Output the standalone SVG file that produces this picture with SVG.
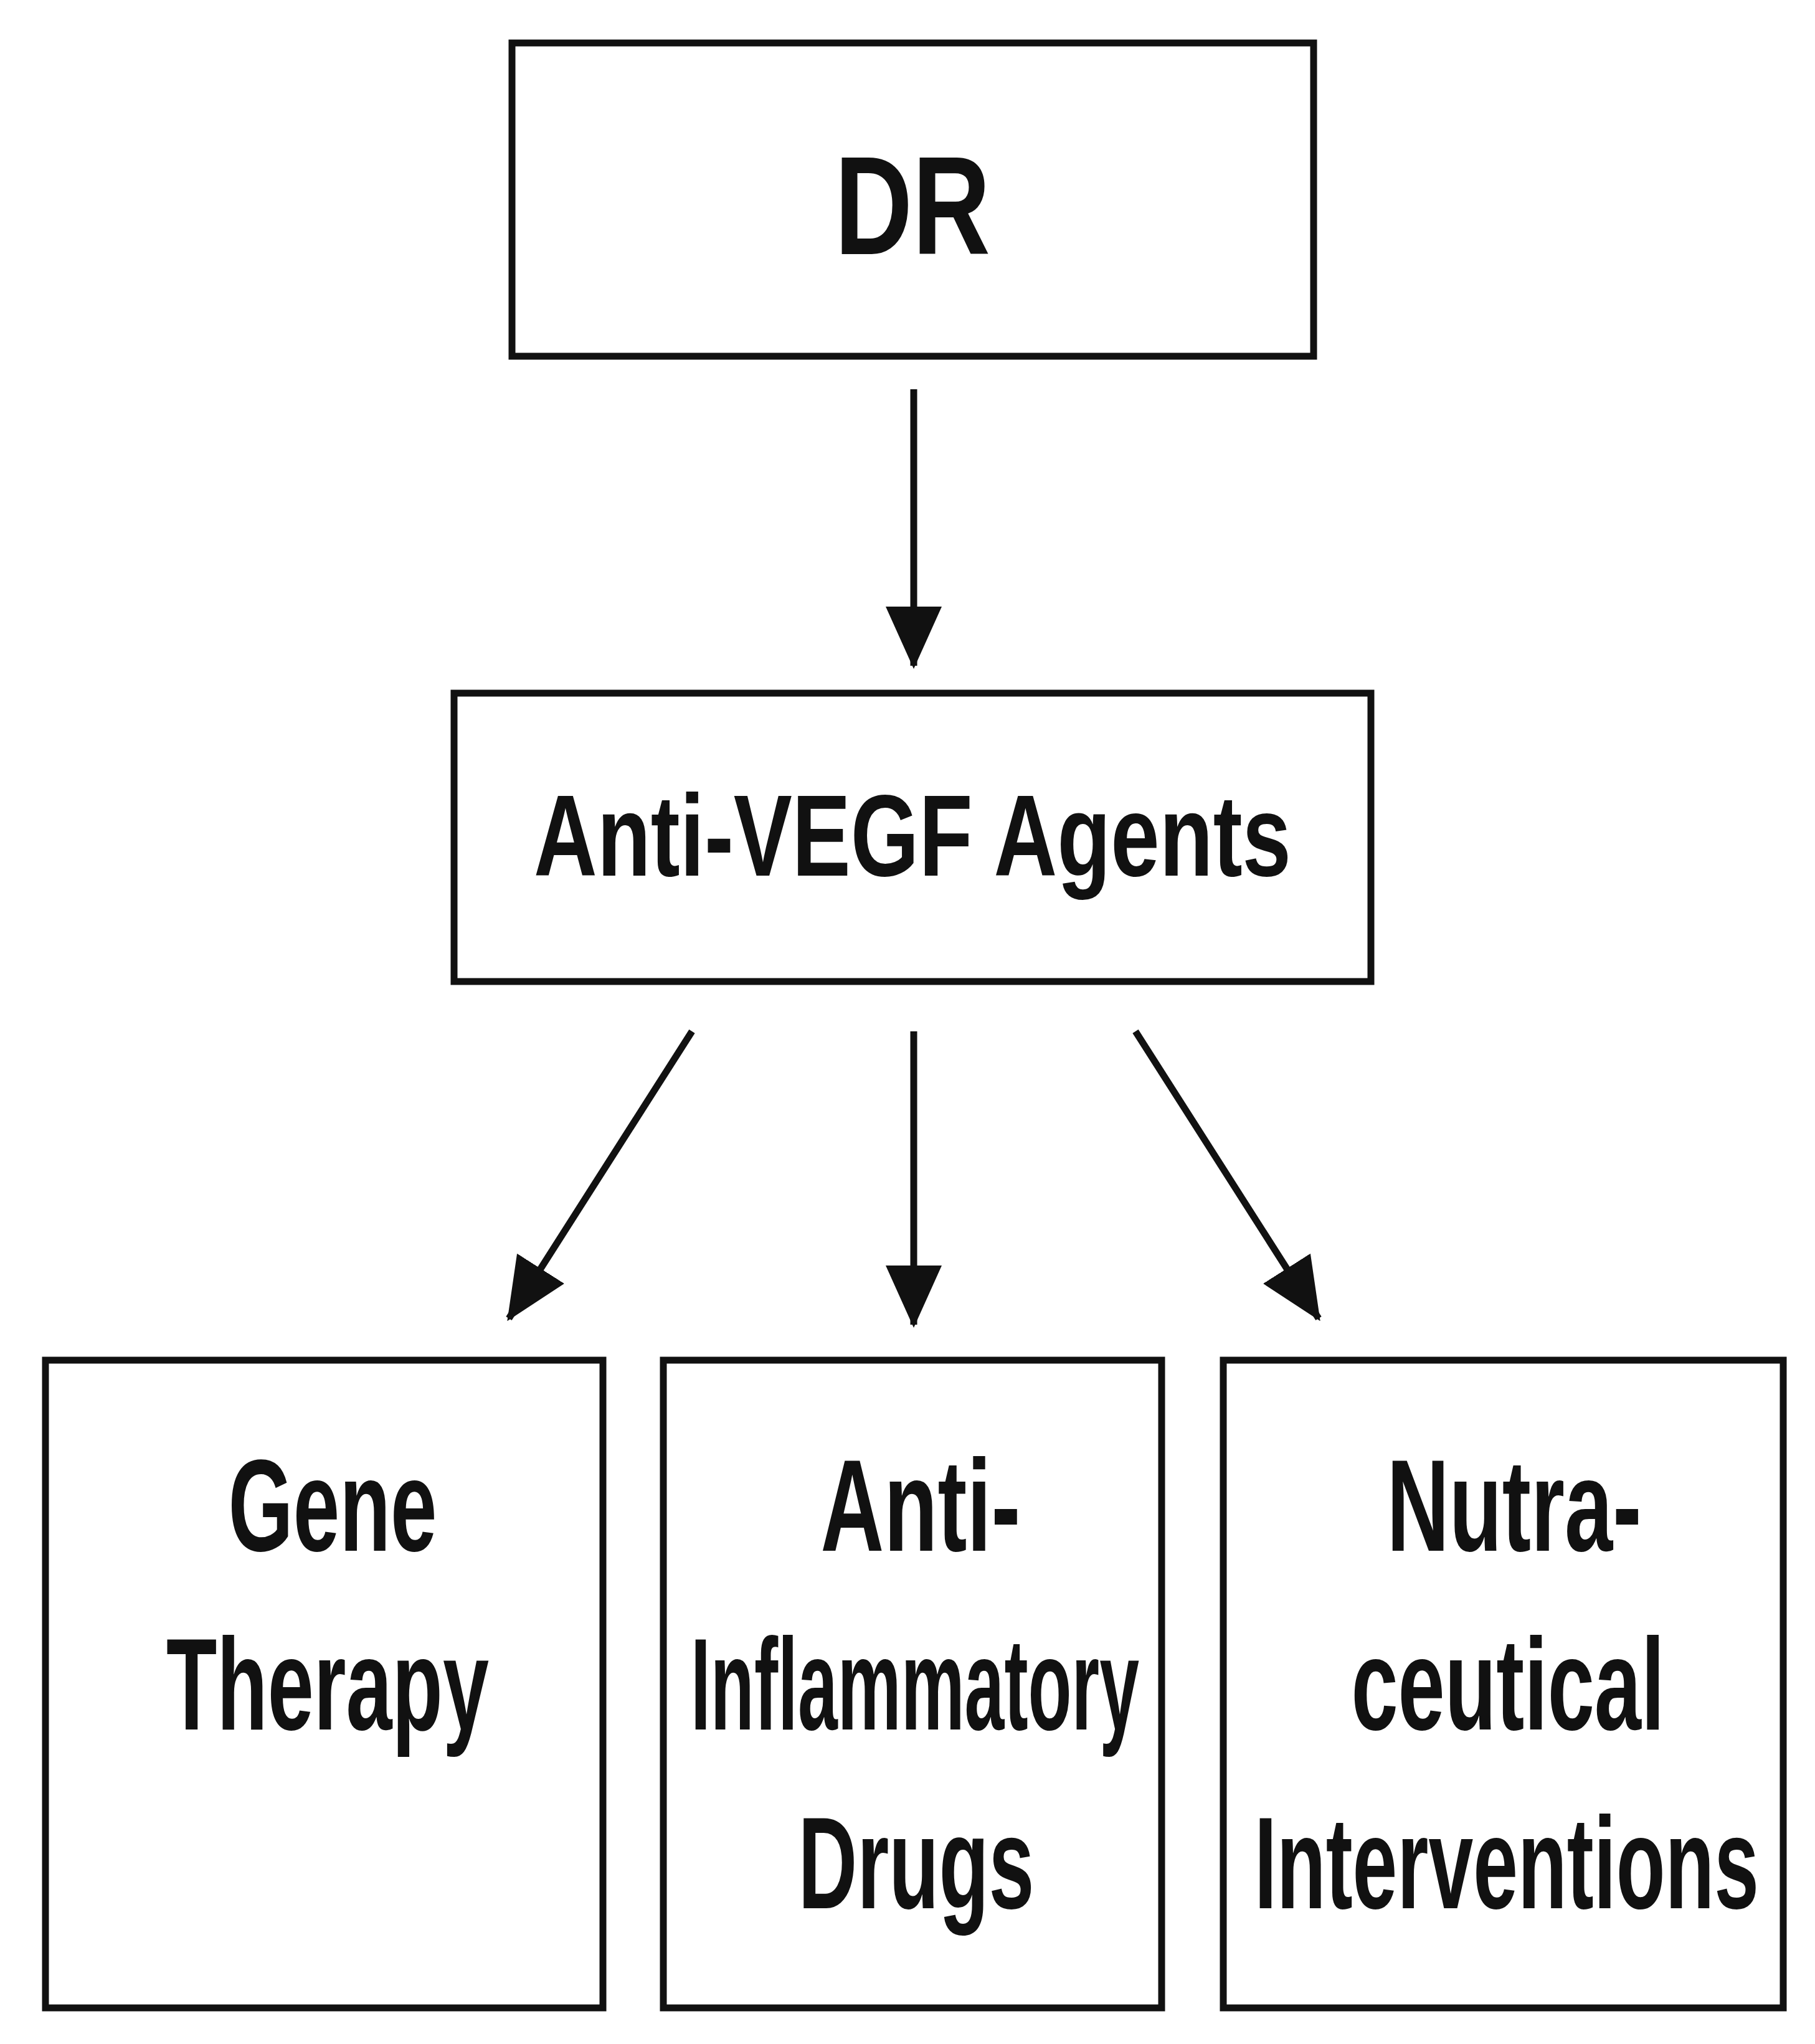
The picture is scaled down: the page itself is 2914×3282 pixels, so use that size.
<svg xmlns="http://www.w3.org/2000/svg" width="2914" height="3282" viewBox="0 0 2914 3282">
<style>
.box{fill:#fff;stroke:#111;stroke-width:11}
.t{font-family:"Liberation Sans Narrow","Liberation Sans",Arial,sans-serif;font-weight:bold;fill:#111;text-anchor:middle}
.c{stroke:#111;stroke-width:11;fill:none}
</style>
<defs>
<marker id="ah" markerUnits="userSpaceOnUse" markerWidth="100" markerHeight="100" viewBox="0 0 100 100" refX="95" refY="50" orient="auto">
<path d="M0,5 L100,50 L0,95 Z" fill="#111"/>
</marker>
</defs>
<rect width="2914" height="3282" fill="#fff"/>
<g id="dr"><rect class="box" x="822" y="69" width="1287" height="503"/><text class="t" x="1465" y="408" font-size="225" textLength="250" lengthAdjust="spacingAndGlyphs">DR</text></g>
<g id="antivegf"><rect class="box" x="729" y="1113" width="1472" height="463"/><text class="t" x="1465" y="1406" font-size="185" textLength="1216" lengthAdjust="spacingAndGlyphs">Anti-VEGF Agents</text></g>
<g id="gene"><rect class="box" x="73" y="2184" width="895" height="1040"/>
<text class="t" x="534" y="2490" font-size="210" textLength="335" lengthAdjust="spacingAndGlyphs">Gene</text>
<text class="t" x="526" y="2777" font-size="210" textLength="518" lengthAdjust="spacingAndGlyphs">Therapy</text></g>
<g id="antiinfl"><rect class="box" x="1065" y="2184" width="800" height="1040"/>
<text class="t" x="1478" y="2490" font-size="210" textLength="321" lengthAdjust="spacingAndGlyphs">Anti-</text>
<text class="t" x="1469" y="2777" font-size="210" textLength="720" lengthAdjust="spacingAndGlyphs">Inflammatory</text>
<text class="t" x="1471" y="3064" font-size="210" textLength="379" lengthAdjust="spacingAndGlyphs">Drugs</text></g>
<g id="nutra"><rect class="box" x="1964" y="2184" width="899" height="1040"/>
<text class="t" x="2431" y="2490" font-size="210" textLength="409" lengthAdjust="spacingAndGlyphs">Nutra-</text>
<text class="t" x="2421" y="2777" font-size="210" textLength="503" lengthAdjust="spacingAndGlyphs">ceutical</text>
<text class="t" x="2419" y="3064" font-size="210" textLength="810" lengthAdjust="spacingAndGlyphs">Interventions</text></g>
<g id="connectors">
<line class="c" x1="1467" y1="625" x2="1467" y2="1069" marker-end="url(#ah)"/>
<line class="c" x1="1111" y1="1656" x2="817" y2="2117" marker-end="url(#ah)"/>
<line class="c" x1="1467" y1="1656" x2="1467" y2="2127" marker-end="url(#ah)"/>
<line class="c" x1="1823" y1="1656" x2="2117" y2="2117" marker-end="url(#ah)"/>
</g>
</svg>
